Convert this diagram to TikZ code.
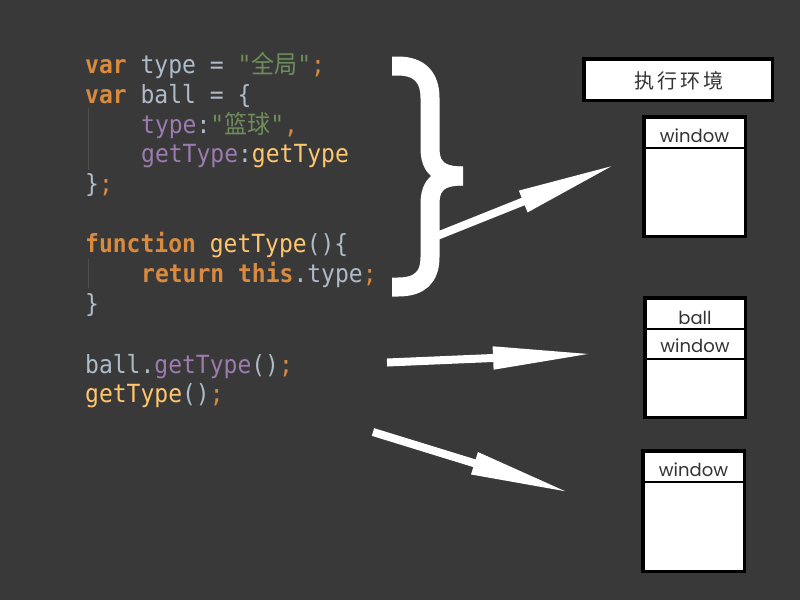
\documentclass[tikz,border=0pt]{standalone}
\usepackage{fontspec}
\setmonofont{DejaVu Sans Mono}[FakeStretch=0.92]
\newfontfamily\cjk{Noto Sans CJK SC}[FakeStretch=0.92]
\newfontfamily\envfont{Noto Sans CJK SC}[LetterSpace=15]
\newfontfamily\boxfont{Poppins}
\usetikzlibrary{arrows.meta}
\definecolor{bg}{HTML}{393939}
\definecolor{plain}{HTML}{AEBBC9}
\definecolor{keyword}{HTML}{D88A3E}
\definecolor{string}{HTML}{6E8C5C}
\definecolor{property}{HTML}{9C7BAF}
\definecolor{funcname}{HTML}{FFC66D}
\definecolor{guide}{HTML}{4E4E4E}
\definecolor{ink}{HTML}{333333}
\newcommand{\kwd}[1]{\textcolor{keyword}{\textbf{#1}}}
\newcommand{\pnc}[1]{\textcolor{keyword}{#1}}
\newcommand{\strg}[1]{\textcolor{string}{#1}}
\newcommand{\prp}[1]{\textcolor{property}{#1}}
\newcommand{\fnc}[1]{\textcolor{funcname}{#1}}
\tikzstyle{code} = [anchor=base west, inner sep=0pt, text=plain, font=\ttfamily\fontsize{25}{30}\selectfont]
\tikzstyle{arrow} = [white, line width=8pt, -{Triangle[length=101pt,width=21pt]}]
\tikzstyle{frame} = [draw=black, fill=white, line width=3.5pt, inner sep=0pt]
\tikzstyle{cell} = [anchor=base, inner sep=0pt, text=ink, font=\boxfont\fontsize{18}{20}\selectfont]
\tikzstyle{sep} = [black, line width=2pt]

\begin{document}
\begin{tikzpicture}[x=1pt, y=-1pt]
    \fill[bg] (0,0) rectangle (800,600);
    \useasboundingbox (0,0) rectangle (800,600);
    % indent guides
    \draw[guide, line width=1.3pt] (88.5,108) -- (88.5,170);
    \draw[guide, line width=1.3pt] (88.5,259) -- (88.5,288);
    % code
    \node[code] (varType) at (85,73.5) {\kwd{var} type = \strg{"{\cjk 全局}"}\pnc{;}};
    \node[code] (varBall) at (85,103.3) {\kwd{var} ball = \{};
    \node[code] (propType) at (141,133.1) {\prp{type}:\strg{"{\cjk 篮球}"}\pnc{,}};
    \node[code] (propGet) at (141,162.9) {\prp{getType}:\fnc{getType}};
    \node[code] (ballEnd) at (85,192.7) {\}\pnc{;}};
    \node[code] (funcHead) at (85,252.5) {\kwd{function} \fnc{getType}()\{};
    \node[code] (funcBody) at (141,282.5) {\kwd{return} \kwd{this}.type\pnc{;}};
    \node[code] (funcEnd) at (85,312.5) {\}};
    \node[code] (callBall) at (85,373) {ball.\prp{getType}()\pnc{;}};
    \node[code] (callFree) at (85,402.5) {\fnc{getType}()\pnc{;}};
    % arrows
    \coordinate (braceOut) at (437,236);
    \coordinate (envTip) at (617,164);
    \coordinate (ballOut) at (387,362.5);
    \coordinate (ballTip) at (594,353.7);
    \coordinate (freeOut) at (373,432);
    \coordinate (freeTip) at (571,493);
    \draw[arrow] (braceOut) -- (envTip);
    \draw[arrow] (ballOut) -- (ballTip);
    \draw[arrow] (freeOut) -- (freeTip);
    % brace
    \draw[white, line width=19pt] (392,66) -- (398,66) .. controls (420,66) and (430,78) .. (430,98)
        -- (430,148) .. controls (430,168) and (440,176) .. (463,176);
    \draw[white, line width=19pt] (463,176) .. controls (440,176) and (430,184) .. (430,204)
        -- (430,257) .. controls (430,277) and (420,287) .. (398,287) -- (392,287);
    % execution contexts
    \node[frame, minimum width=188.5pt, minimum height=41.5pt] (env) at (678,79.5) {};
    \node[anchor=base, inner sep=0pt, text=ink, font=\envfont\fontsize{20}{22}\selectfont] (envText) at (679,88.5) {执行环境};
    \node[frame, minimum width=101.5pt, minimum height=119.5pt] (stackA) at (694.5,176.5) {};
    \draw[sep] (643.75,148) -- (745.25,148);
    \node[cell] (winA) at (694.5,142) {window};
    \node[frame, minimum width=100.5pt, minimum height=119.5pt] (stackB) at (695,357.5) {};
    \draw[sep] (644.75,329) -- (745.25,329);
    \draw[sep] (644.75,359) -- (745.25,359);
    \node[cell] (ballB) at (695,324) {ball};
    \node[cell] (winB) at (695,352) {window};
    \node[frame, minimum width=101.5pt, minimum height=120.5pt] (stackC) at (693.5,511) {};
    \draw[sep] (642.75,482) -- (744.25,482);
    \node[cell] (winC) at (693.5,476) {window};
\end{tikzpicture}
\end{document}
